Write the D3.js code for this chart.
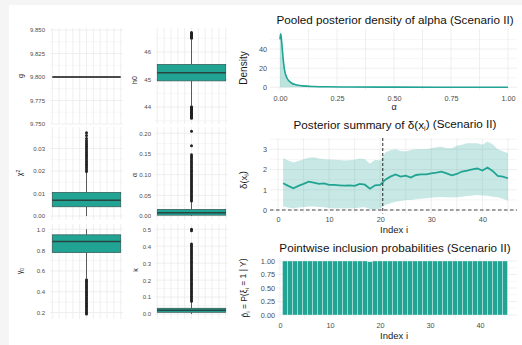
<!DOCTYPE html>
<html>
<head>
<meta charset="utf-8">
<script src="https://cdn.jsdelivr.net/npm/d3@7"></script>
<style>
  body { margin: 0; background: #f5f5f5; }
  svg { display: block; font-family: "Liberation Sans", Arial, sans-serif; }
</style>
</head>
<body>
<script>
// ---- data ----
// boxplot summaries, order: g, h0, chi2, alpha, gamma0, k
const boxNames = ['g', 'h0', 'chi2', 'alpha', 'gamma0', 'k'];
const boxLow  = [9.8, 44.05, 0.0000, 0.000, 0.530, 0.000];
const boxQ1   = [9.8, 44.95, 0.0041, 0.002, 0.776, 0.010];
const boxMed  = [9.8, 45.25, 0.0070, 0.008, 0.882, 0.022];
const boxQ3   = [9.8, 45.55, 0.0105, 0.016, 0.947, 0.034];
const boxHigh = [9.8, 46.45, 0.0195, 0.035, 1.000, 0.072];

const gOut = [];
const h0Out = [46.50, 46.53, 46.56, 46.59, 46.62, 46.65, 46.68, 46.71,
  44.01, 43.98, 43.95, 43.92, 43.89, 43.86, 43.83, 43.80, 43.77, 43.74, 43.71, 43.68, 43.65, 43.62, 43.59];
const chi2Out = [0.0198, 0.0206, 0.0214, 0.0222, 0.0230, 0.0238, 0.0246, 0.0254, 0.0262, 0.0270,
  0.0278, 0.0286, 0.0294, 0.0302, 0.0310, 0.0318, 0.0326, 0.0334, 0.0345, 0.0358, 0.0370];
const alphaOut = [0.036, 0.040, 0.044, 0.048, 0.052, 0.056, 0.060, 0.064, 0.068, 0.072, 0.076, 0.080,
  0.084, 0.088, 0.092, 0.096, 0.100, 0.104, 0.108, 0.112, 0.116, 0.120, 0.124, 0.128, 0.132, 0.136,
  0.140, 0.144, 0.148, 0.170, 0.205];
const gammaOut = [0.515, 0.500, 0.485, 0.470, 0.455, 0.440, 0.425, 0.410, 0.395, 0.380, 0.365, 0.350,
  0.335, 0.320, 0.305, 0.290, 0.275, 0.260, 0.245, 0.230, 0.215, 0.200, 0.185];
const kOut = [0.075, 0.085, 0.095, 0.105, 0.115, 0.125, 0.135, 0.145, 0.155, 0.165, 0.175, 0.185,
  0.195, 0.205, 0.215, 0.225, 0.235, 0.245, 0.255, 0.265, 0.275, 0.285, 0.295, 0.305, 0.315, 0.325,
  0.335, 0.345, 0.355, 0.365, 0.375, 0.385, 0.395, 0.405, 0.413, 0.492, 0.500];

const gTicks = [9.75, 9.775, 9.8, 9.825, 9.85];
const h0Ticks = [44, 45, 46];
const chi2Ticks = [0, 0.01, 0.02, 0.03];
const alphaTicks = [0, 0.05, 0.10, 0.15, 0.20];
const gammaTicks = [0.2, 0.4, 0.6, 0.8, 1.0];
const kTicks = [0, 0.1, 0.2, 0.3, 0.4, 0.5];

// pooled density of alpha
const alphaGrid    = [0, 0.003, 0.006, 0.010, 0.015, 0.020, 0.030, 0.040, 0.050, 0.070, 0.100, 0.150, 0.200, 0.300, 0.500, 0.750, 1.000];
const alphaDensity = [50, 56, 51, 40, 27, 18, 10, 6.5, 4.5, 2.6, 1.5, 0.8, 0.5, 0.3, 0.15, 0.08, 0.05];
const densXTicks = [0, 0.25, 0.5, 0.75, 1];
const densYTicks = [0, 20, 40];

// posterior summary of delta(x_i)
const deltaIndex = d3.range(1, 46);
const deltaMedian = [1.32, 1.19, 1.07, 1.19, 1.29, 1.40, 1.35, 1.29, 1.32, 1.24, 1.24, 1.22, 1.20, 1.22, 1.19,
  1.29, 1.25, 1.05, 1.22, 1.24, 1.50, 1.65, 1.76, 1.65, 1.70, 1.60, 1.73, 1.76, 1.76, 1.81, 1.85, 1.90, 1.81,
  1.71, 1.78, 1.90, 1.95, 2.01, 2.05, 1.95, 2.10, 1.93, 1.68, 1.65, 1.57];
const deltaUpper = [2.56, 2.45, 2.35, 2.42, 2.51, 2.58, 2.61, 2.55, 2.51, 2.50, 2.48, 2.47, 2.45, 2.46, 2.48,
  2.55, 2.51, 2.28, 2.48, 2.45, 2.84, 2.95, 3.00, 2.92, 2.89, 2.96, 3.00, 3.00, 3.00, 3.05, 3.10, 3.12, 3.05,
  3.05, 3.17, 3.22, 3.30, 3.30, 3.30, 3.22, 3.38, 3.25, 3.00, 2.90, 2.80];
const deltaLower = [0.17, 0.12, 0.08, 0.12, 0.13, 0.17, 0.17, 0.15, 0.13, 0.10, 0.08, 0.09, 0.08, 0.09, 0.08,
  0.12, 0.13, 0.05, 0.03, 0.08, 0.25, 0.33, 0.41, 0.45, 0.50, 0.50, 0.53, 0.55, 0.58, 0.60, 0.63, 0.64, 0.63,
  0.62, 0.63, 0.66, 0.69, 0.72, 0.74, 0.72, 0.70, 0.66, 0.63, 0.55, 0.46];
const changePoint = 20.5;
const indexTicks = [0, 10, 20, 30, 40];
const deltaYTicks = [0, 1, 2, 3];

// pointwise inclusion probabilities
const inclusionProb = [1, 1, 1, 1, 1, 1, 1, 1, 1, 1, 1, 1, 1, 1, 1, 1, 1, 0.985, 1, 1, 1, 1, 1,
  1, 1, 1, 1, 1, 1, 1, 1, 1, 1, 1, 1, 1, 1, 1, 1, 1, 1, 1, 1, 1, 1];
const probYTicks = [0, 0.25, 0.5, 0.75, 1];

// ---- drawing ----
const width = 522, height = 345;
const teal = '#21a494';
const gridCol = '#ebebeb';
const tickCol = '#4d4d4d';

const svg = d3.select('body').append('svg').attr('width', width).attr('height', height);
svg.append('rect').attr('width', width).attr('height', height).attr('fill', '#f5f5f5');
svg.append('rect').attr('x', 9).attr('y', 5).attr('width', width - 9).attr('height', height - 5).attr('fill', '#fff');

function midpoints(ticks) {
  const out = [];
  for (let i = 0; i < ticks.length - 1; i++) out.push((ticks[i] + ticks[i + 1]) / 2);
  return out;
}

function grid(g, x, y, xMajor, yMajor, rect) {
  const minorY = midpoints(yMajor);
  const stepY = yMajor[1] - yMajor[0];
  minorY.push(yMajor[0] - stepY / 2, yMajor[yMajor.length - 1] + stepY / 2);
  minorY.concat(yMajor).forEach(v => {
    const py = y(v);
    if (py < rect.top || py > rect.bottom) return;
    g.append('line').attr('x1', rect.left).attr('x2', rect.right).attr('y1', py).attr('y2', py)
      .attr('stroke', gridCol).attr('stroke-width', yMajor.includes(v) ? 0.8 : 0.45);
  });
  xMajor.forEach(v => {
    const px = x(v);
    if (px < rect.left || px > rect.right) return;
    g.append('line').attr('y1', rect.top).attr('y2', rect.bottom).attr('x1', px).attr('x2', px)
      .attr('stroke', gridCol).attr('stroke-width', 0.8);
  });
}

function yTitle(cx, cy, size) {
  return svg.append('text').attr('transform', `translate(${cx},${cy}) rotate(-90)`)
    .attr('text-anchor', 'middle').attr('dy', '0.35em').attr('font-size', size).attr('fill', '#1a1a1a');
}

// boxplot panels
const boxPanels = [
  { i: 0, left: 50, right: 123, top: 28, bottom: 124, dom: [9.75, 9.85], rng: [124, 30], ticks: gTicks, fmt: '.3f', out: gOut },
  { i: 1, left: 155, right: 228, top: 28, bottom: 124, dom: [44, 46], rng: [107, 52], ticks: h0Ticks, fmt: 'd', out: h0Out },
  { i: 2, left: 50, right: 123, top: 127, bottom: 220, dom: [0, 0.03], rng: [216, 148.5], ticks: chi2Ticks, fmt: '.2f', out: chi2Out },
  { i: 3, left: 155, right: 228, top: 127, bottom: 220, dom: [0, 0.2], rng: [216, 133.3], ticks: alphaTicks, fmt: '.2f', out: alphaOut },
  { i: 4, left: 50, right: 123, top: 224, bottom: 319, dom: [0.2, 1.0], rng: [312.5, 229.3], ticks: gammaTicks, fmt: '.1f', out: gammaOut },
  { i: 5, left: 155, right: 228, top: 224, bottom: 319, dom: [0, 0.5], rng: [314, 229.3], ticks: kTicks, fmt: '.1f', out: kOut }
];

boxPanels.forEach(p => {
  const g = svg.append('g');
  const x = d3.scaleLinear().domain([-0.4, 0.4]).range([p.left, p.right]);
  const y = d3.scaleLinear().domain(p.dom).range(p.rng);
  const rect = { left: p.left, right: p.right, top: p.top, bottom: p.bottom };
  grid(g, x, y, d3.range(-0.375, 0.38, 0.075), p.ticks, rect);

  const ax = g.append('g').attr('transform', `translate(${p.left},0)`)
    .call(d3.axisLeft(y).tickValues(p.ticks).tickSize(0).tickPadding(p.i % 2 ? 4 : 5).tickFormat(d3.format(p.fmt)));
  ax.select('.domain').remove();
  ax.selectAll('text').attr('font-size', 6).attr('fill', tickCol).attr('font-family', null);

  const i = p.i, cx = x(0), hw = x(0.375) - x(0);
  if (boxQ1[i] === boxQ3[i]) {
    g.append('line').attr('x1', cx - hw).attr('x2', cx + hw).attr('y1', y(boxMed[i])).attr('y2', y(boxMed[i]))
      .attr('stroke', '#4a4a4a').attr('stroke-width', 2);
  } else {
    g.append('line').attr('x1', cx).attr('x2', cx).attr('y1', y(boxLow[i])).attr('y2', y(boxQ1[i]))
      .attr('stroke', '#333').attr('stroke-width', 0.8);
    g.append('line').attr('x1', cx).attr('x2', cx).attr('y1', y(boxQ3[i])).attr('y2', y(boxHigh[i]))
      .attr('stroke', '#333').attr('stroke-width', 0.8);
    g.append('rect').attr('x', cx - hw).attr('width', 2 * hw)
      .attr('y', y(boxQ3[i])).attr('height', y(boxQ1[i]) - y(boxQ3[i]))
      .attr('fill', teal).attr('stroke', '#335550').attr('stroke-width', 0.7);
    g.append('line').attr('x1', cx - hw).attr('x2', cx + hw).attr('y1', y(boxMed[i])).attr('y2', y(boxMed[i]))
      .attr('stroke', '#284540').attr('stroke-width', 1.5);
  }
  g.selectAll('circle.out').data(p.out).enter().append('circle')
    .attr('cx', cx).attr('cy', d => y(d)).attr('r', 1.5).attr('fill', '#222');
});

yTitle(21, 76, 7).text('g');
yTitle(135, 80, 7).text('h0');
const chiT = yTitle(20, 173, 7);
chiT.append('tspan').text('χ');
chiT.append('tspan').attr('dy', '-0.5em').attr('font-size', 5).text('2');
yTitle(135, 175, 7).text('α');
const gamT = yTitle(20, 271, 7);
gamT.append('tspan').text('γ');
gamT.append('tspan').attr('dy', '0.3em').attr('font-size', 5).text('0');
yTitle(136, 270, 7).text('k');

// right-hand panels
function rightAxes(g, x, y, xt, yt, xf, yf, rect, ypad, xLabelY) {
  const ay = g.append('g').attr('transform', `translate(${rect.left},0)`)
    .call(d3.axisLeft(y).tickValues(yt).tickSize(0).tickPadding(ypad).tickFormat(yf));
  ay.select('.domain').remove();
  ay.selectAll('text').attr('font-size', 7.3).attr('fill', tickCol).attr('font-family', null);
  const axx = g.append('g').attr('transform', `translate(0,${xLabelY})`)
    .call(d3.axisBottom(x).tickValues(xt).tickSize(0).tickPadding(0).tickFormat(xf));
  axx.select('.domain').remove();
  axx.selectAll('text').attr('font-size', 7.3).attr('fill', tickCol).attr('font-family', null).attr('dy', '0.35em');
}

function title(cy, txt) {
  return svg.append('text').attr('x', 395).attr('y', cy).attr('dy', '0.35em').attr('text-anchor', 'middle')
    .attr('font-size', 11.7).attr('fill', '#111').text(txt);
}

// panel 1: density
{
  const g = svg.append('g');
  const rect = { left: 270, right: 517, top: 29, bottom: 90 };
  const x = d3.scaleLinear().domain([0, 1]).range([280, 508]);
  const y = d3.scaleLinear().domain([0, 40]).range([87.3, 49]);
  const minorX = midpoints(densXTicks);
  grid(g, x, y, densXTicks.concat(minorX), densYTicks, rect);
  const pts = alphaGrid.map((a, i) => [a, alphaDensity[i]]);
  g.append('path').datum(pts)
    .attr('d', d3.area().x(d => x(d[0])).y0(y(0)).y1(d => y(d[1])).curve(d3.curveMonotoneX))
    .attr('fill', teal).attr('fill-opacity', 0.3);
  g.append('path').datum(pts)
    .attr('d', d3.line().x(d => x(d[0])).y(d => y(d[1])).curve(d3.curveMonotoneX))
    .attr('fill', 'none').attr('stroke', teal).attr('stroke-width', 1.6);
  rightAxes(g, x, y, densXTicks, densYTicks, d3.format('.2f'), d3.format('d'), rect, 3, 98.5);
  title(20, 'Pooled posterior density of alpha (Scenario II)');
  svg.append('text').attr('x', 394).attr('y', 110).attr('text-anchor', 'middle')
    .attr('font-size', 9).attr('fill', '#1a1a1a').text('α');
  yTitle(243, 68, 10).text('Density');
}

// panel 2: delta summary
{
  const g = svg.append('g');
  const rect = { left: 270, right: 517, top: 138, bottom: 213.5 };
  const x = d3.scaleLinear().domain([0, 40]).range([278, 482.4]);
  const y = d3.scaleLinear().domain([0, 3]).range([210, 149.3]);
  grid(g, x, y, indexTicks.concat(midpoints(indexTicks), [45]), deltaYTicks, rect);
  g.append('path').datum(deltaIndex)
    .attr('d', d3.area().x(d => x(d)).y0((d, i) => y(deltaLower[i])).y1((d, i) => y(deltaUpper[i])))
    .attr('fill', teal).attr('fill-opacity', 0.25);
  g.append('path').datum(deltaIndex)
    .attr('d', d3.line().x(d => x(d)).y((d, i) => y(deltaMedian[i])))
    .attr('fill', 'none').attr('stroke', teal).attr('stroke-width', 1.8);
  g.append('line').attr('x1', x(changePoint)).attr('x2', x(changePoint)).attr('y1', rect.top).attr('y2', rect.bottom)
    .attr('stroke', '#111').attr('stroke-width', 0.9).attr('stroke-dasharray', '3,2');
  g.append('line').attr('x1', rect.left).attr('x2', rect.right).attr('y1', y(0)).attr('y2', y(0))
    .attr('stroke', '#333').attr('stroke-width', 0.9).attr('stroke-dasharray', '3.5,2.5');
  rightAxes(g, x, y, indexTicks, deltaYTicks, d3.format('d'), d3.format('d'), rect, 3, 219.5);
  const t = title(125, 'Posterior summary of δ(x');
  t.append('tspan').attr('dy', '0.3em').attr('font-size', 7).text('i');
  t.append('tspan').attr('dy', '-0.3em').text(') (Scenario II)');
  svg.append('text').attr('x', 394).attr('y', 233).attr('text-anchor', 'middle')
    .attr('font-size', 9.5).attr('fill', '#1a1a1a').text('Index i');
  const yt = yTitle(244, 180, 9.5);
  yt.append('tspan').text('δ(x');
  yt.append('tspan').attr('dy', '0.3em').attr('font-size', 6.5).text('i');
  yt.append('tspan').attr('dy', '-0.3em').text(')');
}

// panel 3: inclusion probabilities
{
  const g = svg.append('g');
  const rect = { left: 277, right: 517, top: 258, bottom: 318 };
  const x = d3.scaleLinear().domain([0, 40]).range([280, 480]);
  const y = d3.scaleLinear().domain([0, 1]).range([315, 261]);
  grid(g, x, y, indexTicks.concat(midpoints(indexTicks), [45]), probYTicks, rect);
  g.selectAll('rect.bar').data(inclusionProb).enter().append('rect')
    .attr('x', (d, i) => x(i + 0.5)).attr('width', x(1) - x(0))
    .attr('y', d => y(d)).attr('height', d => y(0) - y(d))
    .attr('fill', teal).attr('stroke', '#fff').attr('stroke-width', 0.35);
  rightAxes(g, x, y, indexTicks, probYTicks, d3.format('d'), d3.format('.2f'), rect, 2, 325.3);
  title(248, 'Pointwise inclusion probabilities (Scenario II)');
  svg.append('text').attr('x', 394).attr('y', 339).attr('text-anchor', 'middle')
    .attr('font-size', 9.5).attr('fill', '#1a1a1a').text('Index i');
  const yt = yTitle(245, 288, 8.5);
  yt.append('tspan').text('p̂');
  yt.append('tspan').attr('dy', '0.3em').attr('font-size', 6).text('i');
  yt.append('tspan').attr('dy', '-0.3em').text(' = P(ξ');
  yt.append('tspan').attr('dy', '0.3em').attr('font-size', 6).text('i');
  yt.append('tspan').attr('dy', '-0.3em').text(' = 1 | Y)');
}
</script>
</body>
</html>
